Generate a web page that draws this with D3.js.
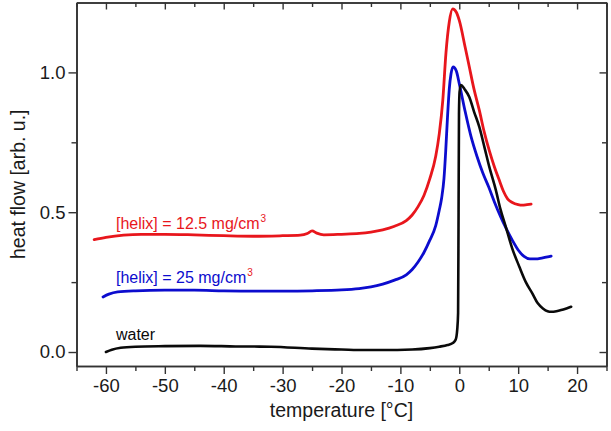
<!DOCTYPE html>
<html>
<head>
<meta charset="utf-8">
<script src="https://cdn.jsdelivr.net/npm/d3@7"></script>
<style>
  html, body { margin: 0; padding: 0; background: #fff; }
  svg { display: block; }
  text { font-family: "Liberation Sans", Arial, sans-serif; }
</style>
</head>
<body>
<svg id="chart" width="611" height="431"></svg>
<script>
// ---- data ----
const xMajorTicks = [-60, -50, -40, -30, -20, -10, 0, 10, 20];
const xMinorTicks = [-65, -55, -45, -35, -25, -15, -5, 5, 15, 25];
const yMajorTicks = [0.0, 0.5, 1.0];
const yMinorTicks = [0.25, 0.75];

const seriesNames = ["[helix] = 12.5 mg/cm", "[helix] = 25 mg/cm", "water"];

const redT = [-62.0, -60, -57, -54, -50, -45, -40, -35, -30, -27, -25.8, -25, -24.2, -23, -20, -17, -15, -13, -11, -9, -8, -7, -6, -5, -4, -3.4, -2.8, -2.26, -1.7, -1.13, -0.5, 0, 1, 1.7, 2.5, 3.4, 4.2, 5.1, 6, 6.8, 7.5, 8.2, 9.0, 10, 10.7, 11.5, 12.2];
const redY = [0.402, 0.41, 0.418, 0.421, 0.421, 0.419, 0.416, 0.414, 0.416, 0.418, 0.424, 0.433, 0.425, 0.419, 0.421, 0.424, 0.429, 0.437, 0.45, 0.47, 0.49, 0.52, 0.56, 0.62, 0.70, 0.78, 0.90, 1.07, 1.18, 1.227, 1.215, 1.186, 1.09, 1.02, 0.94, 0.865, 0.79, 0.72, 0.66, 0.614, 0.575, 0.548, 0.535, 0.527, 0.525, 0.527, 0.529];

const blueT = [-60.5, -59.5, -58, -55, -50, -45, -40, -35, -30, -25, -20, -17, -15, -13, -11, -9, -8, -7, -6, -5, -4, -3.4, -3, -2.6, -2.3, -2.0, -1.7, -1.4, -1.05, -0.5, 0, 1, 2, 3, 4, 5, 6, 7, 8, 9, 10, 11, 12, 13, 14, 15, 15.6];
const blueY = [0.197, 0.207, 0.215, 0.219, 0.221, 0.221, 0.219, 0.218, 0.218, 0.219, 0.222, 0.227, 0.233, 0.243, 0.257, 0.276, 0.295, 0.322, 0.356, 0.40, 0.452, 0.507, 0.55, 0.62, 0.72, 0.84, 0.94, 0.995, 1.02, 1.005, 0.96, 0.86, 0.77, 0.70, 0.64, 0.59, 0.535, 0.485, 0.44, 0.40, 0.365, 0.342, 0.333, 0.333, 0.336, 0.34, 0.343];

const waterT = [-60, -59, -57.5, -55, -50, -44, -38, -32, -25, -20, -16, -13, -8, -5, -3.4, -2, -1.1, -0.6, -0.35, -0.2, -0.12, -0.05, 0.05, 0.28, 0.9, 1.7, 2.5, 3.4, 4.3, 5.1, 6.2, 7.0, 7.9, 9, 10.2, 11.3, 12.4, 13.3, 14.2, 15, 15.6, 16.5, 17.3, 18.2, 19];
const waterY = [0.0, 0.008, 0.015, 0.019, 0.021, 0.022, 0.02, 0.019, 0.012, 0.009, 0.007, 0.007, 0.009, 0.014, 0.019, 0.025, 0.032, 0.045, 0.08, 0.14, 0.5, 0.85, 0.93, 0.955, 0.94, 0.912, 0.86, 0.805, 0.73, 0.662, 0.58, 0.51, 0.448, 0.37, 0.305, 0.25, 0.21, 0.175, 0.156, 0.146, 0.144, 0.146, 0.15, 0.156, 0.162];

const colors = ["#e8161c", "#0c0cce", "#0a0a0a"];

// ---- layout ----
const svg = d3.select("#chart");
const mLeft = 76.5, mRight = 606.5, mTop = 2.5, mBottom = 366;
const x = d3.scaleLinear().domain([-65, 25]).range([mLeft, mRight]);
const y = d3.scaleLinear().domain([-0.05, 1.25]).range([mBottom, mTop]);

const axisColor = "#333";
const fmtX = d => String(d);
const fmtY = d => d3.format(".1f")(d);

function styleAxis(g) {
  g.select(".domain").attr("stroke", axisColor).attr("stroke-width", 1.6);
  g.selectAll(".tick line").attr("stroke", axisColor).attr("stroke-width", 1.4);
  g.selectAll(".tick text").attr("fill", "#1a1a1a").style("font-size", "18.5px")
    .style("font-family", "'Liberation Sans', Arial, sans-serif");
}

// bottom
svg.append("g").attr("transform", `translate(0,${mBottom})`)
  .call(d3.axisBottom(x).tickValues(xMajorTicks).tickFormat(fmtX).tickSize(8).tickPadding(5).tickSizeOuter(0))
  .call(styleAxis);
svg.append("g").attr("transform", `translate(0,${mBottom})`)
  .call(d3.axisBottom(x).tickValues(xMinorTicks).tickFormat("").tickSize(5).tickSizeOuter(0))
  .call(styleAxis);
// top (inward)
svg.append("g").attr("transform", `translate(0,${mTop})`)
  .call(d3.axisTop(x).tickValues(xMajorTicks).tickFormat("").tickSize(-7).tickSizeOuter(0))
  .call(styleAxis);
svg.append("g").attr("transform", `translate(0,${mTop})`)
  .call(d3.axisTop(x).tickValues(xMinorTicks).tickFormat("").tickSize(-4.5).tickSizeOuter(0))
  .call(styleAxis);
// left
svg.append("g").attr("transform", `translate(${mLeft},0)`)
  .call(d3.axisLeft(y).tickValues(yMajorTicks).tickFormat(fmtY).tickSize(8).tickPadding(3).tickSizeOuter(0))
  .call(styleAxis);
svg.append("g").attr("transform", `translate(${mLeft},0)`)
  .call(d3.axisLeft(y).tickValues(yMinorTicks).tickFormat("").tickSize(5).tickSizeOuter(0))
  .call(styleAxis);
// right (inward)
svg.append("g").attr("transform", `translate(${mRight},0)`)
  .call(d3.axisRight(y).tickValues(yMajorTicks).tickFormat("").tickSize(-7).tickSizeOuter(0))
  .call(styleAxis);
svg.append("g").attr("transform", `translate(${mRight},0)`)
  .call(d3.axisRight(y).tickValues(yMinorTicks).tickFormat("").tickSize(-4.5).tickSizeOuter(0))
  .call(styleAxis);

// ---- curves ----
const line = d3.line().x(d => x(d[0])).y(d => y(d[1])).curve(d3.curveMonotoneX);
const series = [
  d3.zip(redT, redY),
  d3.zip(blueT, blueY),
  d3.zip(waterT, waterY)
];
const plot = svg.append("g");
series.forEach((s, i) => {
  plot.append("path").datum(s)
    .attr("d", line)
    .attr("fill", "none")
    .attr("stroke", colors[i])
    .attr("stroke-width", i === 2 ? 2.6 : 2.8)
    .attr("stroke-linejoin", "round")
    .attr("stroke-linecap", "round");
});

// ---- annotations ----
const labelT = [-58.3, -58.3, -58.3];
const labelY = [0.439, 0.2475, 0.043];
const supColors = [colors[0], colors[0], null];
seriesNames.forEach((name, i) => {
  const t = svg.append("text")
    .attr("x", x(labelT[i]))
    .attr("y", y(labelY[i]))
    .attr("fill", colors[i])
    .style("font-size", "16px");
  t.append("tspan").text(name);
  if (supColors[i]) {
    t.append("tspan").attr("dy", -7).attr("dx", 1).attr("fill", supColors[i])
      .style("font-size", "10px").text("3");
  }
});

// ---- axis titles ----
svg.append("text")
  .attr("x", (mLeft + mRight) / 2).attr("y", 417)
  .attr("text-anchor", "middle").attr("fill", "#1a1a1a")
  .style("font-size", "19.5px")
  .text("temperature [°C]");
svg.append("text")
  .attr("transform", `translate(25,${(mTop + mBottom) / 2}) rotate(-90)`)
  .attr("text-anchor", "middle").attr("fill", "#1a1a1a")
  .style("font-size", "19.5px")
  .text("heat flow [arb. u.]");
</script>
</body>
</html>
